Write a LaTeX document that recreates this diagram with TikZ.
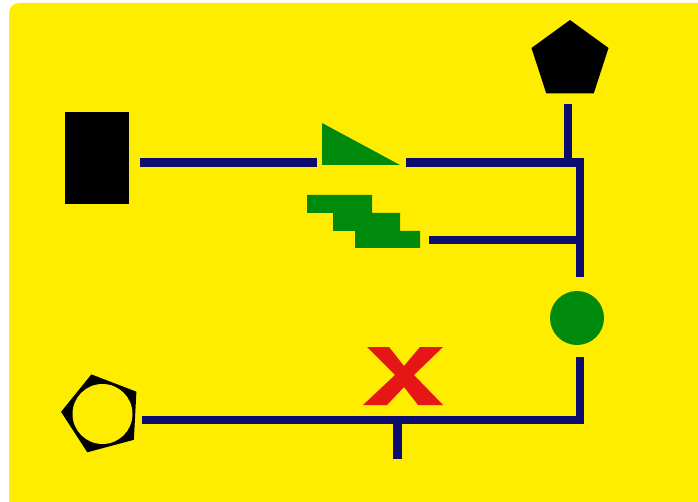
\documentclass[tikz,border=0pt]{standalone}
\usetikzlibrary{shapes.geometric}
\definecolor{panel}{RGB}{255,237,0}
\definecolor{wireblue}{RGB}{12,12,110}
\definecolor{signgreen}{RGB}{0,138,12}
\definecolor{crossred}{RGB}{228,22,22}
\begin{document}
\begin{tikzpicture}[x=1pt,y=-1pt,
  wire/.style={draw=wireblue,line width=8.5pt,line cap=butt,line join=miter},
  blackshape/.style={fill=black,draw=none,inner sep=0pt,outer sep=0pt},
  greenshape/.style={fill=signgreen,draw=none}]
\useasboundingbox (0,0) rectangle (698,502);
% panel
\fill[white] (0,0) rectangle (698,502);
\fill[panel,rounded corners=10pt] (9,3) rectangle (740,540);

% terminals
\node[blackshape,minimum width=64pt,minimum height=92pt] (src) at (96.5,158) {};
\node[blackshape,regular polygon,regular polygon sides=5,minimum size=81pt] (top) at (570,60.5) {};
\node[blackshape,regular polygon,regular polygon sides=5,minimum size=82pt,rotate=15] (ring) at (102,414) {};
\node[circle,fill=panel,inner sep=0pt,minimum size=60pt] (ringhole) at (102.5,414) {};
\node[circle,fill=signgreen,inner sep=0pt,minimum size=54pt] (lamp) at (577,318) {};

% green symbols
\fill[greenshape] (322,123) -- (322,165) -- (400,165) -- cycle;
\coordinate (wedge) at (350,150);
\fill[greenshape] (307,195) -- (372,195) -- (372,213) -- (400,213) -- (400,231)
  -- (420,231) -- (420,248) -- (355,248) -- (355,231) -- (333,231) -- (333,213)
  -- (307,213) -- cycle;
\coordinate (stairs) at (365,222);

% red cross
\fill[crossred] (367,347) -- (389,347) -- (404,366) -- (420,347) -- (443,347)
  -- (414,375) -- (443,405) -- (418,405) -- (404,387) -- (387,405) -- (363,405)
  -- (395,375) -- cycle;

% wire end points
\coordinate (a1) at (140,162.5);
\coordinate (a2) at (317,162.5);
\coordinate (b1) at (406,162.5);
\coordinate (bj) at (580,162.5);
\coordinate (bend) at (580,277);
\coordinate (t1) at (568,104);
\coordinate (t2) at (568,162.5);
\coordinate (c1) at (429,240);
\coordinate (c2) at (580,240);
\coordinate (d1) at (580,357);
\coordinate (dj) at (580,420);
\coordinate (d2) at (142,420);
\coordinate (e1) at (397.5,420);
\coordinate (e2) at (397.5,459);

% wires
\draw[wire] (a1) -- (a2);
\draw[wire] (b1) -- (bj) -- (bend);
\draw[wire] (t1) -- (t2);
\draw[wire] (c1) -- (c2);
\draw[wire] (d1) -- (dj) -- (d2);
\draw[wire] (e1) -- (e2);
\end{tikzpicture}
\end{document}
